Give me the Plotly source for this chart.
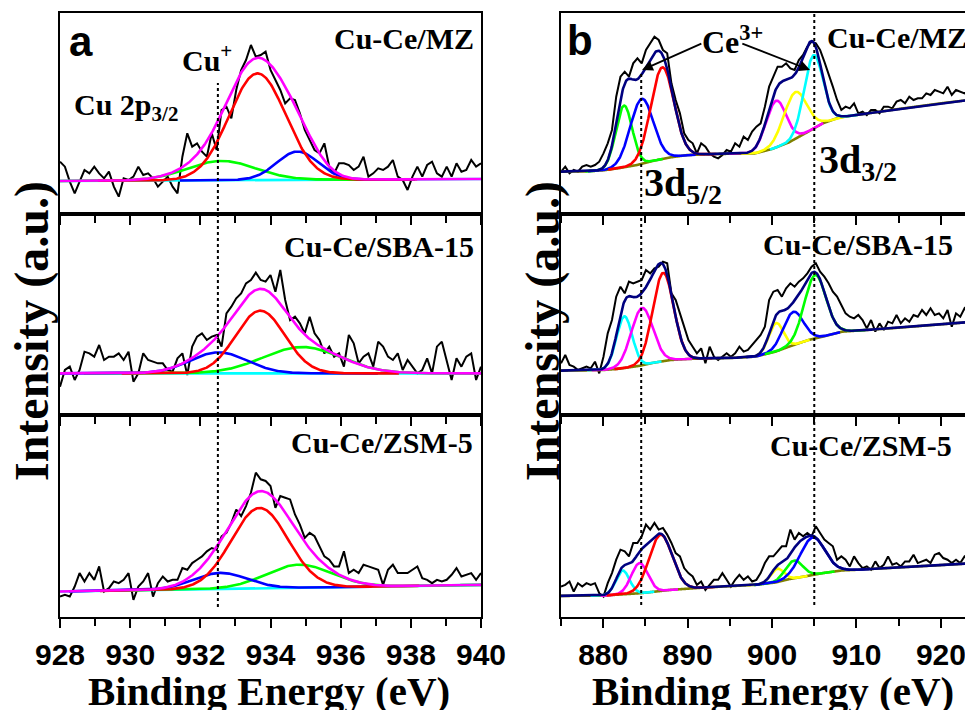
import numpy as np
import plotly.graph_objects as go

# page is shown with an 8px body margin; the figure is sized to fill the rest of the window
OFF = 8
W, H = 973 - OFF, 710 - OFF

# ---------------- DATA ----------------
# Panel a: Cu 2p3/2 (binding energy 928-940 eV), intensity in arbitrary units
a_range = [928, 940]
a_mz = [157,142,97,62,97,132,122,142,122,107,127,82,52,107,102,112,142,117,122,107,
        82,97,112,82,62,172,242,202,212,187,172,242,192,312,322,287,372,432,462,507,
        472,477,487,432,402,372,332,347,342,302,252,222,192,182,212,142,122,152,152,147,
        132,142,172,112,122,137,132,142,162,112,102,72,112,142,112,147,157,122,112,142,
        112,152,127,132,162,142,152]
a_sba = [85,135,145,105,135,190,185,175,210,165,175,175,185,165,190,100,125,185,165,160,
         155,155,135,130,170,185,120,205,235,245,225,235,240,205,305,325,350,365,395,405,
         427,405,400,420,370,435,345,285,295,275,245,295,245,225,185,205,175,185,145,240,
         215,155,175,185,145,220,205,175,165,185,135,165,145,125,135,170,125,205,220,165,
         105,170,145,175,185,105,145]
a_zsm = [61,66,61,91,131,106,131,111,151,76,86,106,101,111,131,51,91,106,131,61,
         101,121,106,111,111,146,141,161,171,181,196,206,201,241,251,281,321,301,331,371,
         431,411,406,391,326,361,356,351,306,276,236,251,241,211,181,171,151,151,196,131,
         141,131,156,151,146,141,96,141,156,131,131,131,141,151,116,111,101,111,106,111,
         126,146,121,126,131,111,131]
# linear baselines (value at 928 eV, value at 940 eV)
a_base = {"mz": [99, 105], "sba": [125, 125], "zsm": [76, 96]}
# fitted peaks: (centre eV, height, FWHM eV) for red, green, blue
a_peaks = {
    "mz":  {"red": (933.63, 320, 1.90), "green": (932.60, 58, 2.30), "blue": (934.77, 85, 1.40)},
    "sba": {"red": (933.71, 188, 1.65), "green": (934.90, 79, 2.60), "blue": (932.52, 63, 1.90)},
    "zsm": {"red": (933.69, 240, 1.90), "green": (934.81, 69, 2.20), "blue": (932.57, 48, 1.80)},
}

# Panel b: Ce 3d (875-923.8 eV)
b_range = [875, 923.8]
b_mz = [127,142,122,132,127,142,147,142,147,157,182,212,252,352,412,427,412,452,467,452,
        492,512,532,522,492,482,392,342,302,242,222,212,182,212,202,182,172,167,177,192,
        187,212,202,232,222,247,262,272,322,382,412,442,442,452,437,432,462,477,502,517,
        512,492,457,422,382,342,312,322,317,332,302,307,297,312,312,302,322,322,317,337,
        342,332,352,342,347,347,362,357,372,367,362,382,357,372,367,362,372,387]
b_sba = [155,180,150,145,135,140,145,140,160,125,175,245,285,355,385,365,400,395,400,405,
         435,425,440,445,460,455,365,345,305,265,225,205,185,200,155,205,175,165,175,185,
         175,185,205,190,195,210,225,240,265,345,370,375,355,380,395,385,400,410,425,445,
         455,430,415,395,370,355,330,305,295,290,300,285,260,285,250,275,255,280,275,300,
         275,290,280,300,295,315,300,320,300,305,290,315,265,305,295,320,305,325]
b_zsm = [91,96,106,76,101,91,101,96,101,71,61,101,131,171,201,196,181,221,221,241,
         276,261,281,261,266,246,221,191,181,146,131,121,96,106,81,96,111,111,131,111,
         91,111,126,111,121,106,111,131,161,181,181,196,211,211,261,231,251,241,251,241,
         271,251,231,221,211,171,181,171,151,181,161,146,151,141,166,146,156,181,156,161,
         151,166,166,186,161,166,171,161,186,191,176,171,161,171,161,181,171,186]
# Shirley-type backgrounds: energies and values
b_bg_e = {
    "mz":  [875, 878, 880, 882, 884, 886, 888, 890, 893, 896, 898, 900, 902, 904, 906, 908, 910, 915, 920, 924],
    "sba": [875, 878, 880, 882, 884.4, 886, 888, 890, 892, 895, 898, 900.4, 902, 904.3, 906, 908.3, 910, 915, 920, 924],
    "zsm": [875, 880, 884.4, 888, 892, 898, 900.4, 902, 904.3, 906, 908.3, 910, 915, 920, 924],
}
b_bg_v = {
    "mz":  [127, 128, 131, 138, 147, 160, 170, 177, 180, 181, 182, 195, 215, 243, 272, 290, 297, 315, 332, 344],
    "sba": [133, 134, 135, 139, 148, 157, 165, 168, 170, 171, 175, 190, 205, 225, 235, 250, 253, 262, 272, 280],
    "zsm": [63, 64, 71, 81, 88, 96, 103, 113, 123, 131, 139, 141, 148, 155, 161],
}
b_peaks = {
    "mz": [("green", 882.46, 185, 2.3), ("blue", 884.56, 195, 3.2), ("red", 887.0, 275, 3.2),
           ("magenta", 900.47, 140, 2.8), ("yellow", 902.73, 140, 3.2), ("cyan", 904.9, 220, 2.6)],
    "sba": [("cyan", 882.5, 155, 2.2), ("magenta", 884.6, 172, 3.0), ("red", 887.1, 265, 2.9),
            ("yellow", 900.47, 85, 2.0), ("blue", 902.5, 100, 2.8), ("green", 905.1, 190, 3.0)],
    "zsm": [("cyan", 882.3, 71, 1.9), ("magenta", 884.3, 90, 2.3), ("red", 886.8, 168, 3.2),
            ("yellow", 900.6, 40, 1.8), ("green", 902.6, 53, 2.4), ("blue", 904.8, 112, 3.4)],
}
samples = ["mz", "sba", "zsm"]
sample_names = {"mz": "Cu-Ce/MZ", "sba": "Cu-Ce/SBA-15", "zsm": "Cu-Ce/ZSM-5"}
cu_plus_line = [932.5]
ce3_lines = [884.5, 905.0]
a_ticks = dict(tick0=928, dtick=2, minor=1)
b_ticks = dict(tick0=880, dtick=10, minor=5)

# ---------------- STYLE ----------------
COL = {"red": "#ff0000", "green": "#00ff00", "blue": "#0000ff", "cyan": "#00ffff",
       "magenta": "#ff00ff", "yellow": "#ffff00", "navy": "#000080", "olive": "#808000"}
SERIF = "Liberation Serif"
SANS = "Liberation Sans"
frame = dict(t=13, b1=214, b2=415, bot=617)   # page pixel rows
ax_a = (60, 481)                               # page pixel columns
ax_b = (561, 973)


def gauss(x, c, a, fwhm):
    s = fwhm / 2.3548
    return a * np.exp(-0.5 * ((x - c) / s) ** 2)


def px(x):
    return min(1.0, (x - OFF) / W)


def py(y):
    return 1 - (y - OFF) / H


fig = go.Figure()
lw = 2.6

# Panel a
for i, s in enumerate(samples):
    xa, ya = f"x{i+1}", f"y{i+1}"
    data = [a_mz, a_sba, a_zsm][i]
    xe = np.linspace(a_range[0], a_range[1], len(data))
    fig.add_trace(go.Scatter(x=xe, y=data, mode="lines", line=dict(color="black", width=2),
                             xaxis=xa, yaxis=ya, showlegend=False))
    grid = np.linspace(a_range[0], a_range[1], 601)
    base = np.interp(grid, a_range, a_base[s])
    fig.add_trace(go.Scatter(x=grid, y=base, mode="lines", line=dict(color=COL["cyan"], width=lw),
                             xaxis=xa, yaxis=ya, showlegend=False))
    total = base.copy()
    for name in ["green", "blue", "red"]:
        c, amp, fw = a_peaks[s][name]
        g = gauss(grid, c, amp, fw)
        total += g
        m = np.abs(grid - c) < 2.4 * fw
        fig.add_trace(go.Scatter(x=grid[m], y=(base + g)[m], mode="lines",
                                 line=dict(color=COL[name], width=lw),
                                 xaxis=xa, yaxis=ya, showlegend=False))
    fig.add_trace(go.Scatter(x=grid, y=total, mode="lines", line=dict(color=COL["magenta"], width=lw),
                             xaxis=xa, yaxis=ya, showlegend=False))

# Panel b
for i, s in enumerate(samples):
    xa, ya = f"x{i+4}", f"y{i+4}"
    data = [b_mz, b_sba, b_zsm][i]
    xe = np.linspace(b_range[0], b_range[1], len(data))
    fig.add_trace(go.Scatter(x=xe, y=data, mode="lines", line=dict(color="black", width=2),
                             xaxis=xa, yaxis=ya, showlegend=False))
    grid = np.linspace(b_range[0], b_range[1], 977)
    base = np.interp(grid, b_bg_e[s], b_bg_v[s])
    fig.add_trace(go.Scatter(x=grid, y=base, mode="lines", line=dict(color=COL["olive"], width=lw, shape="spline"),
                             xaxis=xa, yaxis=ya, showlegend=False))
    total = base.copy()
    for name, c, amp, fw in b_peaks[s]:
        g = gauss(grid, c, amp, fw)
        total += g
        m = np.abs(grid - c) < 2.0 * fw
        fig.add_trace(go.Scatter(x=grid[m], y=(base + g)[m], mode="lines",
                                 line=dict(color=COL[name], width=lw),
                                 xaxis=xa, yaxis=ya, showlegend=False))
    fig.add_trace(go.Scatter(x=grid, y=total, mode="lines", line=dict(color=COL["navy"], width=lw),
                             xaxis=xa, yaxis=ya, showlegend=False))

# Axes
ydoms = [(py(frame["b1"]), py(frame["t"])), (py(frame["b2"]), py(frame["b1"])), (py(frame["bot"]), py(frame["b2"]))]
tickfont = dict(family=SANS, size=30, color="black", weight="bold")
for k in range(6):
    panel_a = k < 3
    row = k % 3
    rng = a_range if panel_a else b_range
    tk = a_ticks if panel_a else b_ticks
    dom = ax_a if panel_a else ax_b
    xkey = "xaxis" if k == 0 else f"xaxis{k+1}"
    ykey = "yaxis" if k == 0 else f"yaxis{k+1}"
    yname = "y" if k == 0 else f"y{k+1}"
    xname = "x" if k == 0 else f"x{k+1}"
    fig.layout[xkey] = dict(domain=[px(dom[0]), px(dom[1])], range=rng, anchor=yname,
                            automargin=False,
                            showline=True, linecolor="black", linewidth=2, mirror=True,
                            ticks="outside", ticklen=9, tickwidth=2, tickcolor="black",
                            tick0=tk["tick0"], dtick=tk["dtick"],
                            minor=dict(dtick=tk["minor"], ticks="outside", ticklen=7, tickwidth=2, tickcolor="black"),
                            showgrid=False, zeroline=False, ticklabelstandoff=1,
                            showticklabels=(row == 2), tickfont=tickfont)
    fig.layout[ykey] = dict(domain=list(ydoms[row]), range=[0, 603], anchor=xname,
                            automargin=False,
                            showline=True, linecolor="black", linewidth=2, mirror=panel_a,
                            ticks="", showticklabels=False, showgrid=False, zeroline=False)

# Dotted reference lines
shapes = []
for e in cu_plus_line:
    shapes.append(dict(type="line", xref="x", yref="paper", x0=e, x1=e, y0=py(607), y1=py(83),
                       line=dict(color="black", width=2, dash="dot")))
tops = [72, 14]
for e, t in zip(ce3_lines, tops):
    shapes.append(dict(type="line", xref="x4", yref="paper", x0=e, x1=e, y0=py(605), y1=py(t),
                       line=dict(color="black", width=2, dash="dot")))

ann = []


def txt(text, x, y, size, family=SERIF, xanchor="center", yanchor="middle", angle=0):
    ann.append(dict(text=text, x=px(x), y=py(y), xref="paper", yref="paper", showarrow=False,
                    xanchor=xanchor, yanchor=yanchor, textangle=angle,
                    font=dict(family=family, size=size, color="black", weight="bold")))


txt("a", 81, 42, 42, family=SANS)
txt("b", 580, 40, 42, family=SANS)
txt(sample_names["mz"], 476, 39, 30, xanchor="right")
txt(sample_names["sba"], 476, 247, 30, xanchor="right")
txt(sample_names["zsm"], 475, 442, 30, xanchor="right")
txt(sample_names["mz"], 825, 37, 30, xanchor="left")
txt(sample_names["sba"], 761, 244, 30, xanchor="left")
txt(sample_names["zsm"], 768, 445, 30, xanchor="left")
txt("Cu<sup>+</sup>", 180, 58, 30, xanchor="left")
txt("Cu 2p<sub>3/2</sub>", 72, 107, 30, xanchor="left")
txt("Ce<sup>3+</sup>", 700, 40, 32, xanchor="left")
txt("3d<sub>5/2</sub>", 642, 185, 40, xanchor="left")
txt("3d<sub>3/2</sub>", 817, 162, 40, xanchor="left")
txt("Binding Energy (eV)", 269, 691, 41)
txt("Binding Energy (eV)", 773, 691, 41)
txt("Intensity (a.u.)", 32, 331, 48, angle=-90)
txt("Intensity (a.u.)", 543, 331, 48, angle=-90)

# Ce3+ arrows (data coordinates of panel b top)
for head, tail in [((884.6, 432), (891.8, 513)), ((904.5, 432), (896.3, 513))]:
    ann.append(dict(x=head[0], y=head[1], ax=tail[0], ay=tail[1], xref="x4", yref="y4",
                    axref="x4", ayref="y4", text="", showarrow=True, arrowhead=2,
                    arrowsize=1.2, arrowwidth=1.8, arrowcolor="black"))

fig.update_layout(width=W, height=H, margin=dict(l=0, r=0, t=0, b=0, autoexpand=False),
                  paper_bgcolor="white", plot_bgcolor="white",
                  shapes=shapes, annotations=ann, showlegend=False)

fig.write_html("out.html")
